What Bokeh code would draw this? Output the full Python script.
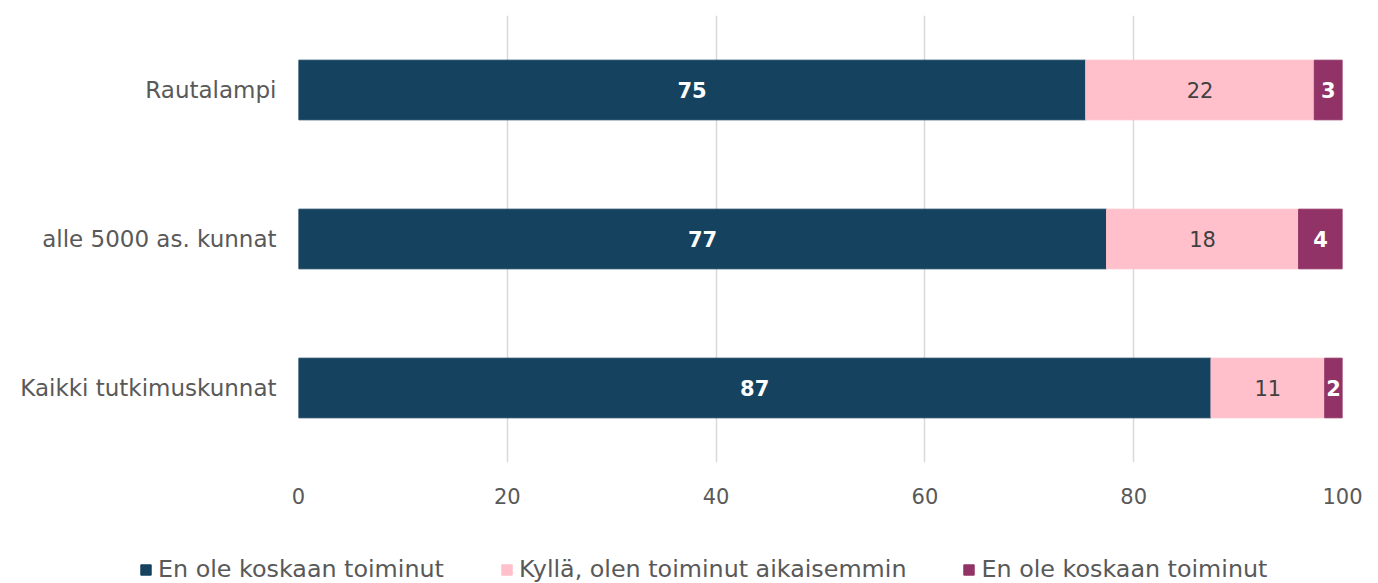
from bokeh.plotting import figure
from bokeh.layouts import column, row
from bokeh.models import ColumnDataSource, Legend, LegendItem, FixedTicker
from bokeh.core.properties import value
from bokeh.embed import file_html
from bokeh.resources import INLINE

categories = ["Rautalampi", "alle 5000 as. kunnat", "Kaikki tutkimuskunnat"]
series_names = ["En ole koskaan toiminut", "Kyllä, olen toiminut aikaisemmin", "En ole koskaan toiminut"]
never = [75.4, 77.4, 87.4]
earlier = [21.9, 18.4, 10.9]
third = [2.7, 4.2, 1.7]
x_ticks = [0, 20, 40, 60, 80, 100]

colors = ["#15425f", "#ffc0cb", "#913366"]
label_colors = ["#ffffff", "#404040", "#ffffff"]
label_styles = ["bold", "normal", "bold"]

FONT = "DejaVu Sans"

p = figure(
    y_range=list(reversed(categories)),
    x_range=(0, 100),
    width=1378, height=540,
    output_backend="svg", toolbar_location=None,
    min_border_left=298, min_border_right=36, min_border_top=15, min_border_bottom=78,
)
p.outline_line_color = None
p.background_fill_color = "white"
p.border_fill_color = "white"
p.y_range.range_padding = 0

series = [never, earlier, third]
lefts = [0.0] * len(categories)
for i, vals in enumerate(series):
    rights = [l + v for l, v in zip(lefts, vals)]
    src = ColumnDataSource(dict(
        cat=categories, left=lefts, right=rights,
        mid=[(l + r) / 2 for l, r in zip(lefts, rights)],
        lab=[str(int(round(v))) for v in vals],
    ))
    p.hbar(y="cat", left="left", right="right", height=0.4, source=src,
           fill_color=colors[i], line_color=colors[i])
    p.text(x="mid", y="cat", text="lab", source=src, text_align="center",
           text_baseline="middle", text_color=label_colors[i],
           text_font=value(FONT), text_font_size="21px", text_font_style=label_styles[i])
    lefts = rights

p.xaxis.ticker = FixedTicker(ticks=x_ticks)
p.xgrid.grid_line_color = "#d9d9d9"
p.xgrid.grid_line_width = 1.5
p.ygrid.grid_line_color = None
for ax in (p.xaxis, p.yaxis):
    ax.axis_line_color = None
    ax.major_tick_line_color = None
    ax.minor_tick_line_color = None
    ax.major_tick_out = 0
    ax.major_tick_in = 0
    ax.major_label_text_font = FONT
    ax.major_label_text_color = "#595959"
p.xaxis.major_label_text_font_size = "21px"
p.yaxis.major_label_text_font_size = "23px"
p.xaxis.major_label_standoff = 25
p.yaxis.major_label_standoff = 22

# legend strip below the chart (frame spans the full strip)
lg = figure(width=1378, height=43, x_range=(0, 1), y_range=(0, 1),
            x_axis_location=None, y_axis_location=None,
            output_backend="svg", toolbar_location=None,
            min_border_left=0, min_border_right=0, min_border_top=0, min_border_bottom=0)
lg.grid.visible = False
lg.outline_line_color = None
lg.background_fill_color = "white"
# zero-width swatch renderers, used only to supply legend icons
dummies = [lg.hbar(y=[-5], left=[-5], right=[-5], height=0.4, fill_color=c, line_color=c)
           for c in colors]
items = [LegendItem(label=series_names[i], renderers=[dummies[i]]) for i in range(3)]
legend = Legend(items=items, orientation="horizontal", location=(139, 0),
                padding=0, margin=0, spacing=56, label_standoff=6,
                glyph_width=13, glyph_height=13, border_line_color=None,
                background_fill_alpha=0,
                label_text_font=FONT, label_text_font_size="23.8px",
                label_text_color="#595959")
lg.add_layout(legend)

layout = column(p, row(lg), spacing=0)
open("out.html", "w").write(file_html(layout, INLINE))
